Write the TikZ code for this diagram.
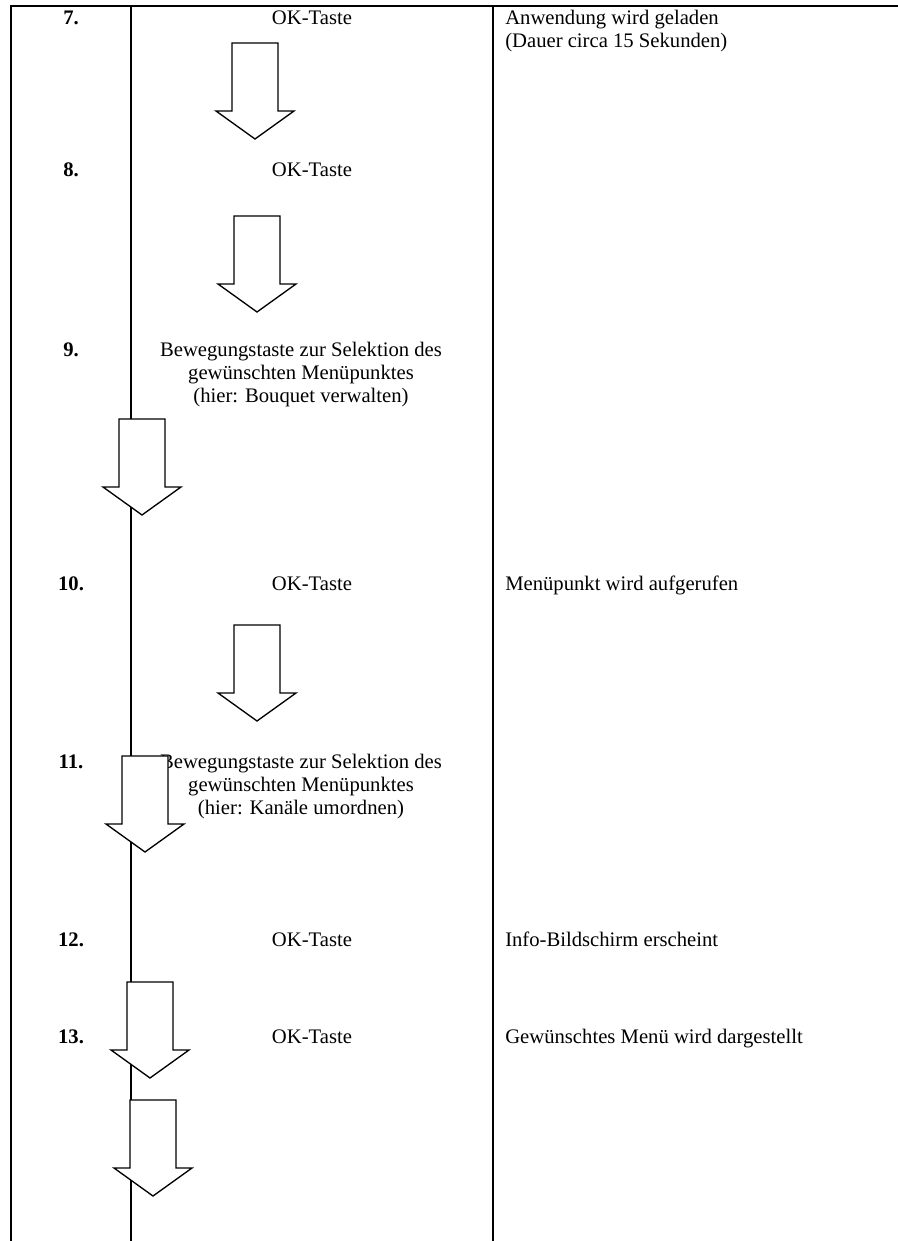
\documentclass[tikz,border=0pt]{standalone}
\usepackage{fontspec}
\setmainfont{Liberation Serif}

\tikzset{
  downarrow/.pic={
    \draw[line width=1pt, fill=white] (-23,0) -- (23,0) -- (23,68) -- (39,68)
      -- (0,96) -- (-39,68) -- (-23,68) -- cycle;
  }
}

\begin{document}
\begin{tikzpicture}[x=0.75pt, y=-0.75pt,
    every node/.style={inner sep=0pt, font=\fontsize{15.5}{17.25}\selectfont},
    num/.style={anchor=base, font=\fontsize{15.5}{17.25}\selectfont\bfseries},
    taste/.style={anchor=base, align=center},
    info/.style={anchor=base west, align=left},
    rule/.style={line width=1.5pt}]
    \useasboundingbox (0,0) rectangle (898,1241);

    % Table frame
    \coordinate (tl) at (11,6);
    \coordinate (tr) at (898,6);
    \coordinate (c1) at (131,6);
    \coordinate (c2) at (493,6);
    \draw[rule] (tl |- 0,1241) -- (tl) -- (tr);
    \draw[rule] (c1) -- (c1 |- 0,1241);
    \draw[rule] (c2) -- (c2 |- 0,1241);

    % Step numbers
    \node[num] (n7) at (71,25) {7.};
    \node[num] (n8) at (71,177) {8.};
    \node[num] (n9) at (71,356) {9.};
    \node[num] (n10) at (71,590) {10.};
    \node[num] (n11) at (71,768) {11.};
    \node[num] (n12) at (71,946) {12.};
    \node[num] (n13) at (71,1043) {13.};

    % Keys (multi-line nodes sit on their last line)
    \node[taste] (k7) at (312,25) {OK-Taste};
    \node[taste] (k8) at (312,177) {OK-Taste};
    \node[taste] (k9) at (301,402) {Bewegungstaste zur Selektion des\\gewünschten Menüpunktes\\(hier: Bouquet verwalten)};
    \node[taste] (k10) at (312,590) {OK-Taste};
    \node[taste] (k11) at (301,814) {Bewegungstaste zur Selektion des\\gewünschten Menüpunktes\\(hier: Kanäle umordnen)};
    \node[taste] (k12) at (312,946) {OK-Taste};
    \node[taste] (k13) at (312,1043) {OK-Taste};

    % Results
    \node[info] (r7) at (505,48) {Anwendung wird geladen\\(Dauer circa 15 Sekunden)};
    \node[info] (r10) at (505,590) {Menüpunkt wird aufgerufen};
    \node[info] (r12) at (505,946) {Info-Bildschirm erscheint};
    \node[info] (r13) at (505,1043) {Gewünschtes Menü wird dargestellt};

    % Arrows
    \pic (a7) at (255,43) {downarrow};
    \pic (a8) at (257,216) {downarrow};
    \pic (a9) at (142,419) {downarrow};
    \pic (a10) at (257,625) {downarrow};
    \pic (a11) at (145,756) {downarrow};
    \pic (a12) at (150,982) {downarrow};
    \pic (a13) at (153,1100) {downarrow};
\end{tikzpicture}
\end{document}
